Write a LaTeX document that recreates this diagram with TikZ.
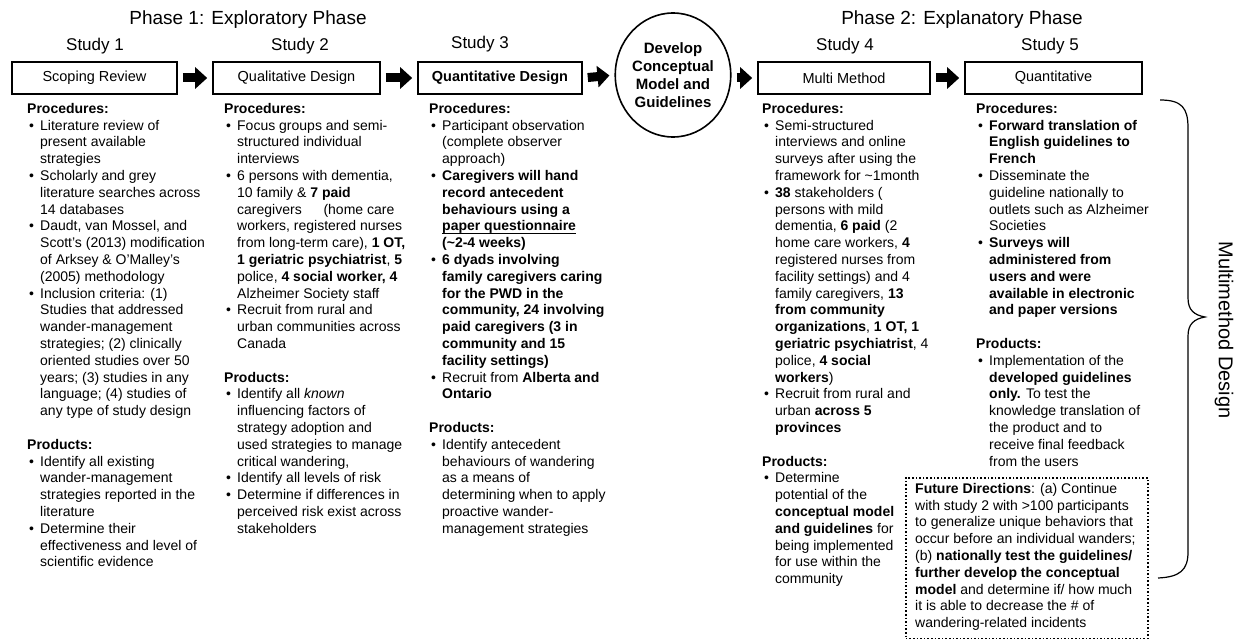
\documentclass[tikz,border=0pt]{standalone}
\usepackage{fontspec}
\setmainfont{Liberation Sans}
\usetikzlibrary{arrows.meta, positioning, shapes.geometric}

\newcommand{\colbul}{\makebox[13pt][l]{\hspace{2pt}\textbullet}}
\newcommand{\colind}{\hspace*{13pt}}

\begin{document}
\begin{tikzpicture}[
    x=1pt, y=-1pt,
    % Define standard styles for the diagram components
    phasetitle/.style={font=\fontsize{19}{22}\selectfont},
    studylabel/.style={font=\fontsize{17}{20}\selectfont},
    studybox/.style={
        rectangle,
        draw=black,
        line width=1.6pt,
        minimum height=32pt,
        inner sep=0pt,
        font=\fontsize{14.5}{16}\selectfont
    },
    modelnode/.style={
        ellipse,
        draw=black,
        line width=1.6pt,
        minimum width=110pt,
        minimum height=124pt,
        inner sep=0pt,
        align=center,
        font=\bfseries\fontsize{15}{18}\selectfont
    },
    coltext/.style={
        anchor=north west,
        inner sep=0pt,
        align=left,
        font=\fontsize{14}{16.8}\selectfont
    },
    futurebox/.style={
        draw=black,
        line width=1.6pt,
        dotted,
        anchor=north west,
        inner sep=0pt,
        minimum width=242pt,
        minimum height=161pt
    },
    blockarrow/.style={
        -{Triangle[length=12pt, width=21pt]},
        line width=9pt,
        shorten <=5pt,
        shorten >=5pt
    }
]
\useasboundingbox (0,0) rectangle (1241,639);

% --- Titles ---
\node[phasetitle] (phase1) at (248,20) {Phase 1: Exploratory Phase};
\node[phasetitle] (phase2) at (962,20) {Phase 2: Explanatory Phase};

% --- Boxes of the studies ---
\node[studybox, minimum width=165pt] (scoping) at (94.5,78) {Scoping Review};
\node[studybox, minimum width=167pt] (quali) at (296.5,78) {Qualitative Design};
\node[studybox, minimum width=164pt, font=\bfseries\fontsize{14.5}{16}\selectfont] (quanti) at (500,78) {Quantitative Design};
\node[modelnode] (model) at (673,75) {Develop\\Conceptual\\Model and\\Guidelines};
\node[studybox, minimum width=172pt] (multi) at (844,78) {Multi Method};
\node[studybox, minimum width=177pt] (quant) at (1053.5,78) {Quantitative};

% Study labels
\node[studylabel] (s1) at (95,46) {Study 1};
\node[studylabel] (s2) at (300,46) {Study 2};
\node[studylabel] (s3) at (480,44) {Study 3};
\node[studylabel] (s4) at (845,46) {Study 4};
\node[studylabel] (s5) at (1050,46) {Study 5};

% --- Connections ---
\draw[blockarrow] (scoping.east) -- (quali.west);
\draw[blockarrow] (quali.east) -- (quanti.west);
\draw[blockarrow] (quanti.east) -- (model.west);
\draw[blockarrow] (model.east |- multi.west) -- (multi.west);
\draw[blockarrow] (multi.east) -- (quant.west);

% --- Study 1 ---
\node[coltext] (col1) at (27,103) {%
\textbf{Procedures:}\\
\colbul Literature review of\\
\colind present available\\
\colind strategies\\
\colbul Scholarly and grey\\
\colind literature searches across\\
\colind 14 databases\\
\colbul Daudt, van Mossel, and\\
\colind Scott’s (2013) modification\\
\colind of Arksey \& O’Malley’s\\
\colind (2005) methodology\\
\colbul Inclusion criteria: (1)\\
\colind Studies that addressed\\
\colind wander-management\\
\colind strategies; (2) clinically\\
\colind oriented studies over 50\\
\colind years; (3) studies in any\\
\colind language; (4) studies of\\
\colind any type of study design\\[16.8pt]
\textbf{Products:}\\
\colbul Identify all existing\\
\colind wander-management\\
\colind strategies reported in the\\
\colind literature\\
\colbul Determine their\\
\colind effectiveness and level of\\
\colind scientific evidence};

% --- Study 2 ---
\node[coltext] (col2) at (224,103) {%
\textbf{Procedures:}\\
\colbul Focus groups and semi-\\
\colind structured individual\\
\colind interviews\\
\colbul 6 persons with dementia,\\
\colind 10 family \& \textbf{7 paid}\\
\colind caregivers \quad\ (home care\\
\colind workers, registered nurses\\
\colind from long-term care), \textbf{1 OT,}\\
\colind \textbf{1 geriatric psychiatrist}, \textbf{5}\\
\colind police, \textbf{4 social worker, 4}\\
\colind Alzheimer Society staff\\
\colbul Recruit from rural and\\
\colind urban communities across\\
\colind Canada\\[16.8pt]
\textbf{Products:}\\
\colbul Identify all \textit{known}\\
\colind influencing factors of\\
\colind strategy adoption and\\
\colind used strategies to manage\\
\colind critical wandering,\\
\colbul Identify all levels of risk\\
\colbul Determine if differences in\\
\colind perceived risk exist across\\
\colind stakeholders};

% --- Study 3 ---
\node[coltext] (col3) at (429,103) {%
\textbf{Procedures:}\\
\colbul Participant observation\\
\colind (complete observer\\
\colind approach)\\
\colbul \textbf{Caregivers will hand}\\
\colind \textbf{record antecedent}\\
\colind \textbf{behaviours using a}\\
\colind \textbf{\underline{\raisebox{0pt}[0pt][1pt]{paper questionnaire}}}\\
\colind \textbf{(\textasciitilde2-4 weeks)}\\
\colbul \textbf{6 dyads involving}\\
\colind \textbf{family caregivers caring}\\
\colind \textbf{for the PWD in the}\\
\colind \textbf{community, 24 involving}\\
\colind \textbf{paid caregivers (3 in}\\
\colind \textbf{community and 15}\\
\colind \textbf{facility settings)}\\
\colbul Recruit from \textbf{Alberta and}\\
\colind \textbf{Ontario}\\[16.8pt]
\textbf{Products:}\\
\colbul Identify antecedent\\
\colind behaviours of wandering\\
\colind as a means of\\
\colind determining when to apply\\
\colind proactive wander-\\
\colind management strategies};

% --- Study 4 ---
\node[coltext] (col4) at (762,103) {%
\textbf{Procedures:}\\
\colbul Semi-structured\\
\colind interviews and online\\
\colind surveys after using the\\
\colind framework for \textasciitilde1month\\
\colbul \textbf{38} stakeholders (\\
\colind persons with mild\\
\colind dementia, \textbf{6 paid} (2\\
\colind home care workers, \textbf{4}\\
\colind registered nurses from\\
\colind facility settings) and 4\\
\colind family caregivers, \textbf{13}\\
\colind \textbf{from community}\\
\colind \textbf{organizations}, \textbf{1 OT, 1}\\
\colind \textbf{geriatric psychiatrist}, 4\\
\colind police, \textbf{4 social}\\
\colind \textbf{workers})\\
\colbul Recruit from rural and\\
\colind urban \textbf{across 5}\\
\colind \textbf{provinces}\\[16.8pt]
\textbf{Products:}\\
\colbul Determine\\
\colind potential of the\\
\colind \textbf{conceptual model}\\
\colind \textbf{and guidelines} for\\
\colind being implemented\\
\colind for use within the\\
\colind community};

% --- Study 5 ---
\node[coltext] (col5) at (976,103) {%
\textbf{Procedures:}\\
\colbul \textbf{Forward translation of}\\
\colind \textbf{English guidelines to}\\
\colind \textbf{French}\\
\colbul Disseminate the\\
\colind guideline nationally to\\
\colind outlets such as Alzheimer\\
\colind Societies\\
\colbul \textbf{Surveys will}\\
\colind \textbf{administered from}\\
\colind \textbf{users and were}\\
\colind \textbf{available in electronic}\\
\colind \textbf{and paper versions}\\[16.8pt]
\textbf{Products:}\\
\colbul Implementation of the\\
\colind \textbf{developed guidelines}\\
\colind \textbf{only.} To test the\\
\colind knowledge translation of\\
\colind the product and to\\
\colind receive final feedback\\
\colind from the users};

% Future directions (dotted box)
\node[futurebox] (future) at (905,477) {};
\node[coltext] (futuretext) at ([xshift=10pt, yshift=-6pt]future.north west) {%
\textbf{Future Directions}: (a) Continue\\
with study 2 with >100 participants\\
to generalize unique behaviors that\\
occur before an individual wanders;\\
(b) \textbf{nationally test the guidelines/}\\
\textbf{further develop the conceptual}\\
\textbf{model} and determine if/ how much\\
it is able to decrease the \# of\\
wandering-related incidents};

% Brace round the phase 2 studies
\coordinate (bracetop) at (1160,100);
\coordinate (bracebot) at (1158,578);
\draw[line width=1.2pt] (bracetop) .. controls (1182,100) and (1188,108) .. (1188,128)
  -- (1188,298) .. controls (1188,310) and (1194,315) .. (1205,317)
  .. controls (1194,319) and (1188,324) .. (1188,336)
  -- (1188,552) .. controls (1188,570) and (1180,577) .. (bracebot);
\node[rotate=-90, font=\fontsize{20}{24}\selectfont] (mmd) at (1224,330) {Multimethod Design};

\end{tikzpicture}
\end{document}
